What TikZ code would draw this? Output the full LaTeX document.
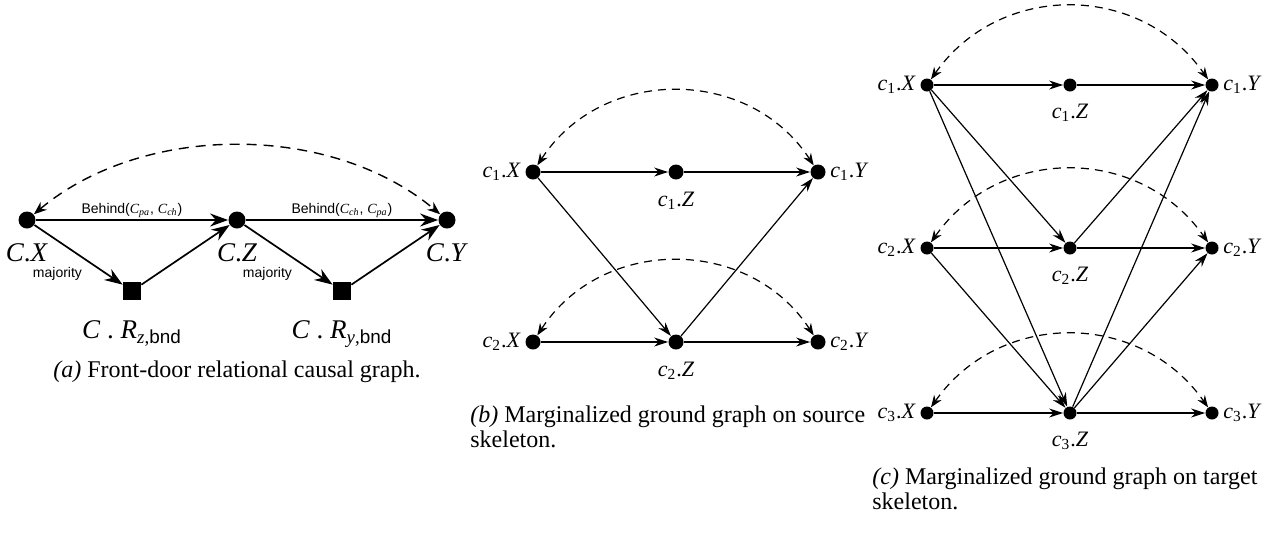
\documentclass[tikz,border=0pt]{standalone}
\usepackage{xcolor}
\usepackage{fontspec}
\setmainfont{Liberation Serif}
\setsansfont{Liberation Sans}
\usepackage{tikz}
\usetikzlibrary{arrows.meta, positioning}
\newcommand{\gv}[3]{\textit{#1}\textsubscript{#2}.\textit{#3}}
\newcommand{\rv}[1]{{\rmfamily\itshape C\textsubscript{#1}}}

\begin{document}
\begin{tikzpicture}[
    x=0.5pt, y=-0.5pt,
    node distance=2pt,
    bigdot/.style={circle, fill=black, inner sep=0pt, minimum size=8.5pt},
    sqbox/.style={rectangle, fill=black, inner sep=0pt, minimum size=9pt},
    dot/.style={circle, fill=black, inner sep=0pt, minimum size=7.5pt},
    smalldot/.style={circle, fill=black, inner sep=0pt, minimum size=6.5pt},
    biglab/.style={font=\fontsize{13.5}{15}\selectfont, inner sep=1pt},
    lab/.style={font=\fontsize{11}{13}\selectfont, inner sep=1pt},
    tiny/.style={font=\sffamily\fontsize{7}{8}\selectfont, inner sep=1pt},
    caption/.style={font=\fontsize{12}{12.5}\selectfont, align=left, inner sep=0pt},
    arrowa/.style={-{Stealth[length=9pt, width=6.5pt]}, line width=0.85pt},
    dasha/.style={{Stealth[length=6.5pt, width=5pt]}-{Stealth[length=6.5pt, width=5pt]}, line width=0.7pt, dash pattern=on 5pt off 3.5pt},
    arrow/.style={-{Stealth[length=7pt, width=4.5pt]}, line width=0.6pt},
    dasharc/.style={{Stealth[length=6pt, width=4.5pt]}-{Stealth[length=6pt, width=4.5pt]}, line width=0.6pt, dash pattern=on 4pt off 3pt}
]
\useasboundingbox (0,0) rectangle (1276,542);

\node[bigdot] (cx) at (27,220) {};
\node[bigdot] (cz) at (237,220) {};
\node[bigdot] (cy) at (447,220) {};
\node[sqbox] (rz) at (132,291) {};
\node[sqbox] (ry) at (342,291) {};

\node[biglab, below=6pt of cx] (cxl) {\textit{C}.\textit{X}};
\node[biglab, below=6pt of cz] (czl) {\textit{C}.\textit{Z}};
\node[biglab, below=6pt of cy] (cyl) {\textit{C}.\textit{Y}};
\node[biglab, below=9pt of rz] (rzl) {\textit{C} . \textit{R}\textsubscript{\textit{z},\textsf{bnd}}};
\node[biglab, below=9pt of ry] (ryl) {\textit{C} . \textit{R}\textsubscript{\textit{y},\textsf{bnd}}};

\draw[arrowa] (cx) -- node[tiny, above] (b1) {Behind(\rv{pa}, \rv{ch})} (cz);
\draw[arrowa] (cz) -- node[tiny, above] (b2) {Behind(\rv{ch}, \rv{pa})} (cy);
\draw[arrowa] (cx) -- node[tiny, pos=0.3, below left=11pt and -12pt] (m1) {majority} (rz);
\draw[arrowa] (rz) -- (cz);
\draw[arrowa] (cz) -- node[tiny, pos=0.3, below left=11pt and -12pt] (m2) {majority} (ry);
\draw[arrowa] (ry) -- (cy);
\draw[dasha] (cx) to[out=40, in=140, looseness=0.9] (cy);

\node[caption, anchor=center] (capa) at (237,372) {\textit{(a)} Front-door relational causal graph.};

\node[dot] (b1x) at (533,172) {};
\node[dot] (b1z) at (676,172) {};
\node[dot] (b1y) at (818,172) {};
\node[dot] (b2x) at (533,342) {};
\node[dot] (b2z) at (676,342) {};
\node[dot] (b2y) at (818,342) {};

\node[lab, left=1pt of b1x] (b1xl) {\gv{c}{1}{X}};
\node[lab, below=5pt of b1z] (b1zl) {\gv{c}{1}{Z}};
\node[lab, right=1pt of b1y] (b1yl) {\gv{c}{1}{Y}};
\node[lab, left=1pt of b2x] (b2xl) {\gv{c}{2}{X}};
\node[lab, below=5pt of b2z] (b2zl) {\gv{c}{2}{Z}};
\node[lab, right=1pt of b2y] (b2yl) {\gv{c}{2}{Y}};

\draw[arrow] (b1x) -- (b1z);
\draw[arrow] (b1z) -- (b1y);
\draw[arrow] (b1x) -- (b2z);
\draw[arrow] (b2x) -- (b2z);
\draw[arrow] (b2z) -- (b2y);
\draw[arrow] (b2z) -- (b1y);
\draw[dasharc] (b1x) to[out=57, in=123, looseness=1.1] (b1y);
\draw[dasharc] (b2x) to[out=57, in=123, looseness=1.1] (b2y);

\node[caption, anchor=north west] (capb) at (470,405) {\textit{(b)} Marginalized ground graph on source\\skeleton.};

\node[smalldot] (c1x) at (927,85) {};
\node[smalldot] (c1z) at (1070,85) {};
\node[smalldot] (c1y) at (1212,85) {};
\node[smalldot] (c2x) at (927,248) {};
\node[smalldot] (c2z) at (1070,248) {};
\node[smalldot] (c2y) at (1212,248) {};
\node[smalldot] (c3x) at (927,413) {};
\node[smalldot] (c3z) at (1070,413) {};
\node[smalldot] (c3y) at (1212,413) {};

\node[lab, left=1pt of c1x] (c1xl) {\gv{c}{1}{X}};
\node[lab, below=5pt of c1z] (c1zl) {\gv{c}{1}{Z}};
\node[lab, right=1pt of c1y] (c1yl) {\gv{c}{1}{Y}};
\node[lab, left=1pt of c2x] (c2xl) {\gv{c}{2}{X}};
\node[lab, below=5pt of c2z] (c2zl) {\gv{c}{2}{Z}};
\node[lab, right=1pt of c2y] (c2yl) {\gv{c}{2}{Y}};
\node[lab, left=1pt of c3x] (c3xl) {\gv{c}{3}{X}};
\node[lab, below=5pt of c3z] (c3zl) {\gv{c}{3}{Z}};
\node[lab, right=1pt of c3y] (c3yl) {\gv{c}{3}{Y}};

\draw[arrow] (c1x) -- (c1z);
\draw[arrow] (c1z) -- (c1y);
\draw[arrow] (c1x) -- (c2z);
\draw[arrow] (c1x) -- (c3z);
\draw[arrow] (c2x) -- (c2z);
\draw[arrow] (c2z) -- (c2y);
\draw[arrow] (c2x) -- (c3z);
\draw[arrow] (c3x) -- (c3z);
\draw[arrow] (c3z) -- (c3y);
\draw[arrow] (c2z) -- (c1y);
\draw[arrow] (c3z) -- (c1y);
\draw[arrow] (c3z) -- (c2y);
\draw[dasharc] (c1x) to[out=55, in=125, looseness=1.1] (c1y);
\draw[dasharc] (c2x) to[out=55, in=125, looseness=1.1] (c2y);
\draw[dasharc] (c3x) to[out=55, in=125, looseness=1.1] (c3y);

\node[caption, anchor=north west] (capc) at (872,467) {\textit{(c)} Marginalized ground graph on target\\skeleton.};
\end{tikzpicture}
\end{document}
